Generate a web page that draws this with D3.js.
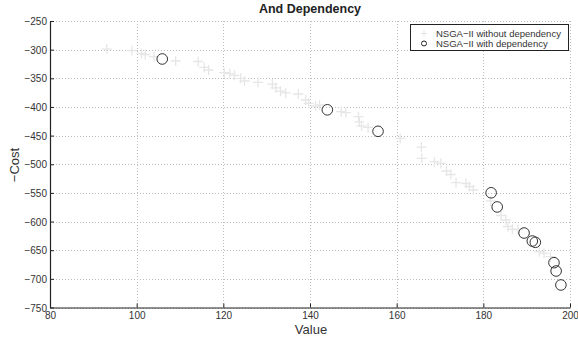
<!DOCTYPE html>
<html><head><meta charset="utf-8">
<script src="https://cdn.jsdelivr.net/npm/d3@7"></script>
<style>body{margin:0;background:#fff}svg{display:block;font-family:"Liberation Sans",Arial,Helvetica,sans-serif}</style>
</head><body><svg id="c" width="578" height="343"></svg>
<script>
const title = "And Dependency";
const xLabel = "Value";
const yLabel = "\u2212Cost";
const seriesNames = ["NSGA\u2212II without dependency", "NSGA\u2212II with dependency"];
const xTicks = [80, 100, 120, 140, 160, 180, 200];
const yTicks = [-250, -300, -350, -400, -450, -500, -550, -600, -650, -700, -750];

const withoutX = [93.1, 98.9, 101.1, 102.0, 104.0, 109.0, 114.2, 115.6, 116.6, 120.2, 121.5, 122.6, 124.0, 124.9, 128.0, 131.3, 132.1, 133.2, 134.4, 137.3, 139.0, 139.7, 141.3, 142.2, 147.2, 148.3, 151.2, 151.4, 151.9, 153.4, 160.8, 165.7, 165.8, 168.7, 170.2, 171.5, 172.5, 173.7, 176.0, 176.8, 177.7, 181.7, 184.1, 185.2, 185.7, 186.7, 188.0, 192.9, 194.0, 195.5];
const withoutY = [-299, -301.5, -306.7, -308.5, -312.3, -319.8, -320.7, -331.1, -335.5, -340.2, -342, -344.8, -350, -354.7, -357, -360, -366.6, -372.5, -375.6, -377.4, -387.9, -393.6, -398.3, -396.6, -408.3, -410, -417, -426.2, -433.2, -435.8, -454.7, -470, -489.6, -495.5, -498.3, -511.8, -517.9, -532.2, -533.6, -538.8, -544.9, -564, -589.4, -597.3, -608.6, -613.5, -613.9, -652.6, -655.4, -661.3];

const withX = [105.9, 144.0, 155.7, 181.8, 183.2, 189.4, 191.3, 192.0, 196.3, 196.8, 197.9];
const withY = [-316.3, -405, -442.5, -549.8, -574.5, -620, -634, -636.2, -671.8, -686.3, -710.7];

const svg = d3.select("#c");
const m = {l: 50, r: 570, t: 21, b: 307.5};
const x = d3.scaleLinear().domain([80, 200]).range([m.l, m.r]);
const y = d3.scaleLinear().domain([-250, -750]).range([m.t, m.b]);

// grid
const g = svg.append("g");
g.selectAll(".gx").data(xTicks).join("line")
  .attr("x1", d => Math.round(x(d)) + 0.5).attr("x2", d => Math.round(x(d)) + 0.5)
  .attr("y1", m.t).attr("y2", m.b)
  .attr("stroke", "#bdbdbd").attr("stroke-width", 1).attr("stroke-dasharray", "1,2");
g.selectAll(".gy").data(yTicks).join("line")
  .attr("y1", d => Math.round(y(d)) + 0.5).attr("y2", d => Math.round(y(d)) + 0.5)
  .attr("x1", m.l).attr("x2", m.r)
  .attr("stroke", "#bdbdbd").attr("stroke-width", 1).attr("stroke-dasharray", "1,2");

// axes
const xAxis = d3.axisBottom(x).tickValues(xTicks).tickSizeInner(-4).tickSizeOuter(0).tickPadding(4);
const yAxis = d3.axisLeft(y).tickValues(yTicks).tickSizeInner(-4).tickSizeOuter(0).tickPadding(3)
  .tickFormat(d => d3.format("d")(d).replace("-", "\u2212"));
const gx = svg.append("g").attr("transform", `translate(0,${m.b})`).call(xAxis);
const gy = svg.append("g").attr("transform", `translate(${m.l},0)`).call(yAxis);
[gx, gy].forEach(a => {
  a.select(".domain").attr("stroke", "#222").attr("stroke-width", 1.2);
  a.selectAll(".tick line").attr("stroke", "#222");
  a.selectAll("text").attr("fill", "#333").attr("font-size", "10px")
    .attr("font-family", "'Liberation Sans',Arial,sans-serif");
});
gy.selectAll("text").attr("dy", "0.35em");

// crosses
const cs = 5;
const crossPath = (cx, cy, s) => `M${cx - s},${cy}H${cx + s}M${cx},${cy - s}V${cy + s}`;
svg.append("g").selectAll("path").data(d3.range(withoutX.length)).join("path")
  .attr("d", i => crossPath(x(withoutX[i]), y(withoutY[i]), cs))
  .attr("stroke", "#e6e6e6").attr("stroke-width", 1.3).attr("fill", "none");

// circles
svg.append("g").selectAll("circle").data(d3.range(withX.length)).join("circle")
  .attr("cx", i => x(withX[i])).attr("cy", i => y(withY[i])).attr("r", 5.3)
  .attr("fill", "none").attr("stroke", "#333").attr("stroke-width", 1);

// title and labels
svg.append("text").attr("x", (m.l + m.r) / 2).attr("y", 13).attr("text-anchor", "middle")
  .attr("font-weight", "bold").attr("font-size", "12.5px").attr("fill", "#222").text(title);
svg.append("text").attr("x", 311).attr("y", 334).attr("text-anchor", "middle")
  .attr("font-size", "13px").attr("fill", "#333").text(xLabel);
svg.append("text").attr("transform", "translate(19,165) rotate(-90)").attr("text-anchor", "middle")
  .attr("font-size", "13px").attr("fill", "#333").text(yLabel);

// legend
const lg = svg.append("g");
lg.append("rect").attr("x", 410.5).attr("y", 24.5).attr("width", 158).attr("height", 26)
  .attr("fill", "#fff").attr("stroke", "#222").attr("stroke-width", 1);
lg.append("path").attr("d", crossPath(424, 33.5, 3)).attr("stroke", "#e3e3e3").attr("stroke-width", 1);
lg.append("circle").attr("cx", 424).attr("cy", 43.5).attr("r", 2.5).attr("fill", "none").attr("stroke", "#222");
lg.selectAll("text").data(seriesNames).join("text")
  .attr("x", 436).attr("y", (d, i) => 37 + i * 9.8)
  .attr("font-size", "9.5px").attr("fill", "#333").text(d => d);
</script></body></html>
